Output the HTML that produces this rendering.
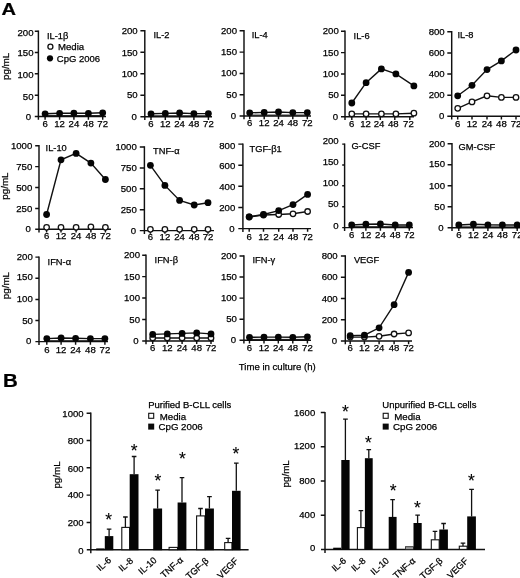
<!DOCTYPE html>
<html><head><meta charset="utf-8"><title>Figure</title>
<style>
html,body{margin:0;padding:0;background:#fff;}
body{width:520px;height:578px;overflow:hidden;font-family:"Liberation Sans", sans-serif;}
svg{display:block;filter:grayscale(1);}
text{font-family:"Liberation Sans", sans-serif;fill:#000;stroke:#000;stroke-width:0.25;}
.t{font-size:9.6px;}
.ax{stroke:#111;stroke-width:1.45;fill:none;}
.ln{stroke:#111;stroke-width:1.4;fill:none;}
.fm{fill:#050505;stroke:none;}
.om{fill:#fff;stroke:#111;stroke-width:1.3;}
.bk{fill:#050505;stroke:none;}
.bw{fill:#fff;stroke:#111;stroke-width:1.1;}
.eb{stroke:#111;stroke-width:1.3;fill:none;}
.star{font-size:17.5px;stroke-width:0.1;}
</style></head><body>
<svg width="520" height="578" viewBox="0 0 520 578">
<rect x="0" y="0" width="520" height="578" fill="#fff"/>
<text transform="translate(1.5,15) scale(1.18,1)" font-size="17" font-weight="bold">A</text>
<text transform="translate(2.9,387.3) scale(1.1,1)" font-size="18.6" font-weight="bold">B</text>
<g>
<path class="ax" d="M38.4,30.5 V119.8 M34.8,116.5 H106.0"/>
<text class="t" x="33.5" y="36.4" text-anchor="end">200</text>
<text class="t" x="33.5" y="56.0" text-anchor="end">150</text>
<text class="t" x="33.5" y="78.2" text-anchor="end">100</text>
<text class="t" x="33.5" y="99.6" text-anchor="end">50</text>
<text class="t" x="31.2" y="120.1" text-anchor="end">0</text>
<path class="ax" d="M34.8,31.2 H38.4 M34.8,52.5 H38.4 M34.8,73.8 H38.4 M34.8,95.2 H38.4 M45.1,116.5 V119.7 M59.6,116.5 V119.7 M73.9,116.5 V119.7 M88.4,116.5 V119.7 M102.7,116.5 V119.7 "/>
<text class="t" x="45.1" y="127.1" text-anchor="middle">6</text>
<text class="t" x="59.6" y="127.1" text-anchor="middle">12</text>
<text class="t" x="73.9" y="127.1" text-anchor="middle">24</text>
<text class="t" x="88.4" y="127.1" text-anchor="middle">48</text>
<text class="t" x="102.7" y="127.1" text-anchor="middle">72</text>
<text class="t" x="47.0" y="38.7" style="font-size:9.3px">IL-1β</text>
<path class="ln" d="M45.1,115.6 H102.7" style="stroke-width:1.0"/>
<polyline class="ln" points="45.1,113.8 59.6,113.3 73.9,113.1 88.4,113.3 102.7,112.8"/>
<circle class="fm" cx="45.1" cy="113.8" r="3.4"/>
<circle class="fm" cx="59.6" cy="113.3" r="3.4"/>
<circle class="fm" cx="73.9" cy="113.1" r="3.4"/>
<circle class="fm" cx="88.4" cy="113.3" r="3.4"/>
<circle class="fm" cx="102.7" cy="112.8" r="3.4"/>
</g>
<g>
<path class="ax" d="M144.8,30.0 V120.0 M140.4,116.7 H212.0"/>
<text class="t" x="137.7" y="34.3" text-anchor="end">200</text>
<text class="t" x="137.7" y="55.6" text-anchor="end">150</text>
<text class="t" x="137.7" y="77.0" text-anchor="end">100</text>
<text class="t" x="137.7" y="98.3" text-anchor="end">50</text>
<text class="t" x="136.8" y="119.6" text-anchor="end">0</text>
<path class="ax" d="M140.4,30.7 H144.8 M140.4,52.2 H144.8 M140.4,73.7 H144.8 M140.4,95.2 H144.8 M151.0,116.7 V119.9 M165.3,116.7 V119.9 M179.6,116.7 V119.9 M193.9,116.7 V119.9 M208.4,116.7 V119.9 "/>
<text class="t" x="151.0" y="126.7" text-anchor="middle">6</text>
<text class="t" x="165.3" y="126.7" text-anchor="middle">12</text>
<text class="t" x="179.6" y="126.7" text-anchor="middle">24</text>
<text class="t" x="193.9" y="126.7" text-anchor="middle">48</text>
<text class="t" x="208.4" y="126.7" text-anchor="middle">72</text>
<text class="t" x="153.4" y="38.2" style="font-size:9.3px">IL-2</text>
<path class="ln" d="M151.0,115.8 H208.4" style="stroke-width:1.0"/>
<polyline class="ln" points="151.0,113.8 165.3,113.4 179.6,113.0 193.9,113.6 208.4,113.6"/>
<circle class="fm" cx="151.0" cy="113.8" r="3.4"/>
<circle class="fm" cx="165.3" cy="113.4" r="3.4"/>
<circle class="fm" cx="179.6" cy="113.0" r="3.4"/>
<circle class="fm" cx="193.9" cy="113.6" r="3.4"/>
<circle class="fm" cx="208.4" cy="113.6" r="3.4"/>
</g>
<g>
<path class="ax" d="M244.0,30.1 V119.3 M239.6,116.0 H311.0"/>
<text class="t" x="237.0" y="33.7" text-anchor="end">200</text>
<text class="t" x="237.0" y="55.0" text-anchor="end">150</text>
<text class="t" x="237.0" y="76.3" text-anchor="end">100</text>
<text class="t" x="237.0" y="97.6" text-anchor="end">50</text>
<text class="t" x="236.2" y="118.9" text-anchor="end">0</text>
<path class="ax" d="M239.6,30.8 H244.0 M239.6,52.1 H244.0 M239.6,73.4 H244.0 M239.6,94.7 H244.0 M249.7,116.0 V119.2 M264.2,116.0 V119.2 M278.5,116.0 V119.2 M292.8,116.0 V119.2 M307.3,116.0 V119.2 "/>
<text class="t" x="249.7" y="126.3" text-anchor="middle">6</text>
<text class="t" x="264.2" y="126.3" text-anchor="middle">12</text>
<text class="t" x="278.5" y="126.3" text-anchor="middle">24</text>
<text class="t" x="292.8" y="126.3" text-anchor="middle">48</text>
<text class="t" x="307.3" y="126.3" text-anchor="middle">72</text>
<text class="t" x="251.7" y="38.3" style="font-size:9.3px">IL-4</text>
<path class="ln" d="M249.7,115.1 H307.3" style="stroke-width:1.0"/>
<polyline class="ln" points="249.7,112.8 264.2,112.4 278.5,112.0 292.8,112.6 307.3,112.6"/>
<circle class="fm" cx="249.7" cy="112.8" r="3.4"/>
<circle class="fm" cx="264.2" cy="112.4" r="3.4"/>
<circle class="fm" cx="278.5" cy="112.0" r="3.4"/>
<circle class="fm" cx="292.8" cy="112.6" r="3.4"/>
<circle class="fm" cx="307.3" cy="112.6" r="3.4"/>
</g>
<g>
<path class="ax" d="M345.0,30.5 V120.0 M341.0,116.7 H414.0"/>
<text class="t" x="338.8" y="34.3" text-anchor="end">200</text>
<text class="t" x="338.8" y="55.7" text-anchor="end">150</text>
<text class="t" x="338.8" y="77.1" text-anchor="end">100</text>
<text class="t" x="338.8" y="98.4" text-anchor="end">50</text>
<text class="t" x="338.0" y="119.8" text-anchor="end">0</text>
<path class="ax" d="M341.0,31.2 H345.0 M341.0,52.6 H345.0 M341.0,74.0 H345.0 M341.0,95.3 H345.0 M351.8,116.7 V119.9 M366.1,116.7 V119.9 M380.3,116.7 V119.9 M394.8,116.7 V119.9 M409.8,116.7 V119.9 "/>
<text class="t" x="351.6" y="126.7" text-anchor="middle">6</text>
<text class="t" x="365.5" y="126.7" text-anchor="middle">12</text>
<text class="t" x="379.0" y="126.7" text-anchor="middle">24</text>
<text class="t" x="393.3" y="126.7" text-anchor="middle">48</text>
<text class="t" x="408.4" y="126.7" text-anchor="middle">72</text>
<text class="t" x="353.6" y="38.7" style="font-size:9.3px">IL-6</text>
<polyline class="ln" points="351.8,103.0 366.1,82.7 381.4,68.9 395.9,73.9 413.9,85.9"/>
<circle class="fm" cx="351.8" cy="103.0" r="3.4"/>
<circle class="fm" cx="366.1" cy="82.7" r="3.4"/>
<circle class="fm" cx="381.4" cy="68.9" r="3.4"/>
<circle class="fm" cx="395.9" cy="73.9" r="3.4"/>
<circle class="fm" cx="413.9" cy="85.9" r="3.4"/>
<polyline class="ln" points="351.8,113.9 366.1,113.9 381.4,113.9 395.9,113.9 413.9,113.2"/>
<circle class="om" cx="351.8" cy="113.9" r="2.75"/>
<circle class="om" cx="366.1" cy="113.9" r="2.75"/>
<circle class="om" cx="381.4" cy="113.9" r="2.75"/>
<circle class="om" cx="395.9" cy="113.9" r="2.75"/>
<circle class="om" cx="413.9" cy="113.2" r="2.75"/>
</g>
<g>
<path class="ax" d="M451.7,31.1 V119.6 M447.3,116.3 H520.0"/>
<text class="t" x="444.7" y="35.2" text-anchor="end">800</text>
<text class="t" x="444.7" y="56.2" text-anchor="end">600</text>
<text class="t" x="444.7" y="77.3" text-anchor="end">400</text>
<text class="t" x="444.7" y="98.4" text-anchor="end">200</text>
<text class="t" x="444.4" y="119.4" text-anchor="end">0</text>
<path class="ax" d="M447.3,31.8 H451.7 M447.3,52.9 H451.7 M447.3,74.0 H451.7 M447.3,95.2 H451.7 M457.7,116.3 V119.5 M472.0,116.3 V119.5 M487.0,116.3 V119.5 M501.4,116.3 V119.5 M516.0,116.3 V119.5 "/>
<text class="t" x="457.7" y="127.2" text-anchor="middle">6</text>
<text class="t" x="472.0" y="127.2" text-anchor="middle">12</text>
<text class="t" x="487.0" y="127.2" text-anchor="middle">24</text>
<text class="t" x="501.4" y="127.2" text-anchor="middle">48</text>
<text class="t" x="516.0" y="127.2" text-anchor="middle">72</text>
<text class="t" x="457.5" y="38.1" style="font-size:9.3px">IL-8</text>
<polyline class="ln" points="457.7,95.8 472.0,85.3 487.0,69.6 501.4,60.9 516.0,50.0"/>
<circle class="fm" cx="457.7" cy="95.8" r="3.4"/>
<circle class="fm" cx="472.0" cy="85.3" r="3.4"/>
<circle class="fm" cx="487.0" cy="69.6" r="3.4"/>
<circle class="fm" cx="501.4" cy="60.9" r="3.4"/>
<circle class="fm" cx="516.0" cy="50.0" r="3.4"/>
<polyline class="ln" points="457.7,108.3 472.0,101.9 487.0,95.8 501.4,97.4 516.0,97.4"/>
<circle class="om" cx="457.7" cy="108.3" r="2.75"/>
<circle class="om" cx="472.0" cy="101.9" r="2.75"/>
<circle class="om" cx="487.0" cy="95.8" r="2.75"/>
<circle class="om" cx="501.4" cy="97.4" r="2.75"/>
<circle class="om" cx="516.0" cy="97.4" r="2.75"/>
</g>
<g>
<path class="ax" d="M39.0,145.0 V232.6 M35.2,229.3 H111.0"/>
<text class="t" x="32.3" y="149.0" text-anchor="end">1000</text>
<text class="t" x="32.3" y="169.5" text-anchor="end">750</text>
<text class="t" x="32.3" y="190.6" text-anchor="end">500</text>
<text class="t" x="32.3" y="211.5" text-anchor="end">250</text>
<text class="t" x="30.8" y="232.4" text-anchor="end">0</text>
<path class="ax" d="M35.2,145.7 H39.0 M35.2,166.6 H39.0 M35.2,187.5 H39.0 M35.2,208.4 H39.0 M46.6,229.3 V232.5 M61.0,229.3 V232.5 M76.1,229.3 V232.5 M90.9,229.3 V232.5 M105.4,229.3 V232.5 "/>
<text class="t" x="46.6" y="239.3" text-anchor="middle">6</text>
<text class="t" x="61.0" y="239.3" text-anchor="middle">12</text>
<text class="t" x="76.1" y="239.3" text-anchor="middle">24</text>
<text class="t" x="90.9" y="239.3" text-anchor="middle">48</text>
<text class="t" x="105.4" y="239.3" text-anchor="middle">72</text>
<text class="t" x="45.6" y="150.6" style="font-size:9.3px">IL-10</text>
<polyline class="ln" points="46.6,214.5 61.0,159.8 76.1,153.4 90.9,163.1 105.4,179.5"/>
<circle class="fm" cx="46.6" cy="214.5" r="3.4"/>
<circle class="fm" cx="61.0" cy="159.8" r="3.4"/>
<circle class="fm" cx="76.1" cy="153.4" r="3.4"/>
<circle class="fm" cx="90.9" cy="163.1" r="3.4"/>
<circle class="fm" cx="105.4" cy="179.5" r="3.4"/>
<circle class="om" cx="46.6" cy="227.3" r="2.75"/>
<circle class="om" cx="61.0" cy="227.3" r="2.75"/>
<circle class="om" cx="76.1" cy="227.3" r="2.75"/>
<circle class="om" cx="90.9" cy="226.8" r="2.75"/>
<circle class="om" cx="105.4" cy="227.3" r="2.75"/>
</g>
<g>
<path class="ax" d="M144.4,146.3 V233.9 M139.8,230.6 H214.0"/>
<text class="t" x="136.8" y="150.1" text-anchor="end">1000</text>
<text class="t" x="136.8" y="171.0" text-anchor="end">750</text>
<text class="t" x="136.8" y="191.9" text-anchor="end">500</text>
<text class="t" x="136.8" y="212.8" text-anchor="end">250</text>
<text class="t" x="136.0" y="233.7" text-anchor="end">0</text>
<path class="ax" d="M139.8,147.0 H144.4 M139.8,167.9 H144.4 M139.8,188.8 H144.4 M139.8,209.7 H144.4 M150.4,230.6 V233.8 M164.9,230.6 V233.8 M179.6,230.6 V233.8 M194.2,230.6 V233.8 M208.0,230.6 V233.8 "/>
<text class="t" x="150.4" y="240.1" text-anchor="middle">6</text>
<text class="t" x="164.9" y="240.1" text-anchor="middle">12</text>
<text class="t" x="179.6" y="240.1" text-anchor="middle">24</text>
<text class="t" x="194.2" y="240.1" text-anchor="middle">48</text>
<text class="t" x="208.0" y="240.1" text-anchor="middle">72</text>
<text class="t" x="153.0" y="153.8" style="font-size:9.3px">TNF-α</text>
<polyline class="ln" points="150.4,165.3 164.9,185.4 179.6,200.4 194.2,205.0 208.0,202.7"/>
<circle class="fm" cx="150.4" cy="165.3" r="3.4"/>
<circle class="fm" cx="164.9" cy="185.4" r="3.4"/>
<circle class="fm" cx="179.6" cy="200.4" r="3.4"/>
<circle class="fm" cx="194.2" cy="205.0" r="3.4"/>
<circle class="fm" cx="208.0" cy="202.7" r="3.4"/>
<circle class="om" cx="150.4" cy="229.3" r="2.75"/>
<circle class="om" cx="164.9" cy="229.3" r="2.75"/>
<circle class="om" cx="179.6" cy="229.3" r="2.75"/>
<circle class="om" cx="194.2" cy="229.3" r="2.75"/>
<circle class="om" cx="208.0" cy="229.3" r="2.75"/>
</g>
<g>
<path class="ax" d="M242.9,143.4 V231.9 M238.3,228.6 H311.0"/>
<text class="t" x="235.3" y="148.5" text-anchor="end">800</text>
<text class="t" x="235.3" y="169.0" text-anchor="end">600</text>
<text class="t" x="235.3" y="189.9" text-anchor="end">400</text>
<text class="t" x="235.3" y="210.9" text-anchor="end">200</text>
<text class="t" x="234.5" y="231.7" text-anchor="end">0</text>
<path class="ax" d="M238.3,144.1 H242.9 M238.3,165.2 H242.9 M238.3,186.3 H242.9 M238.3,207.5 H242.9 M249.2,228.6 V231.8 M263.5,228.6 V231.8 M278.7,228.6 V231.8 M293.0,228.6 V231.8 M307.6,228.6 V231.8 "/>
<text class="t" x="249.2" y="239.7" text-anchor="middle">6</text>
<text class="t" x="263.5" y="239.7" text-anchor="middle">12</text>
<text class="t" x="278.7" y="239.7" text-anchor="middle">24</text>
<text class="t" x="293.0" y="239.7" text-anchor="middle">48</text>
<text class="t" x="307.6" y="239.7" text-anchor="middle">72</text>
<text class="t" x="249.5" y="151.6" style="font-size:9.3px">TGF-β1</text>
<polyline class="ln" points="249.2,217.0 263.5,215.0 278.7,214.5 293.0,213.8 307.6,211.5"/>
<circle class="om" cx="249.2" cy="217.0" r="2.75"/>
<circle class="om" cx="263.5" cy="215.0" r="2.75"/>
<circle class="om" cx="278.7" cy="214.5" r="2.75"/>
<circle class="om" cx="293.0" cy="213.8" r="2.75"/>
<circle class="om" cx="307.6" cy="211.5" r="2.75"/>
<polyline class="ln" points="249.2,216.8 263.5,214.5 278.7,210.6 293.0,204.6 307.6,194.4"/>
<circle class="fm" cx="249.2" cy="216.8" r="3.4"/>
<circle class="fm" cx="263.5" cy="214.5" r="3.4"/>
<circle class="fm" cx="278.7" cy="210.6" r="3.4"/>
<circle class="fm" cx="293.0" cy="204.6" r="3.4"/>
<circle class="fm" cx="307.6" cy="194.4" r="3.4"/>
</g>
<g>
<path class="ax" d="M344.6,143.4 V230.9 M342.2,227.6 H413.0"/>
<text class="t" x="338.7" y="143.8" text-anchor="end">200</text>
<text class="t" x="338.7" y="164.6" text-anchor="end">150</text>
<text class="t" x="338.7" y="186.3" text-anchor="end">100</text>
<text class="t" x="338.7" y="207.3" text-anchor="end">50</text>
<text class="t" x="338.7" y="229.2" text-anchor="end">0</text>
<path class="ax" d="M342.2,144.1 H344.6 M342.2,165.0 H344.6 M342.2,185.8 H344.6 M342.2,206.7 H344.6 M351.7,227.6 V230.8 M365.9,227.6 V230.8 M380.4,227.6 V230.8 M395.2,227.6 V230.8 M409.3,227.6 V230.8 "/>
<text class="t" x="351.7" y="238.4" text-anchor="middle">6</text>
<text class="t" x="365.9" y="238.4" text-anchor="middle">12</text>
<text class="t" x="380.4" y="238.4" text-anchor="middle">24</text>
<text class="t" x="395.2" y="238.4" text-anchor="middle">48</text>
<text class="t" x="409.3" y="238.4" text-anchor="middle">72</text>
<text class="t" x="351.4" y="149.1" style="font-size:9.3px">G-CSF</text>
<path class="ln" d="M351.7,226.7 H409.3" style="stroke-width:1.0"/>
<polyline class="ln" points="351.7,225.0 365.9,224.2 380.4,224.0 395.2,225.0 409.3,225.0"/>
<circle class="fm" cx="351.7" cy="225.0" r="3.4"/>
<circle class="fm" cx="365.9" cy="224.2" r="3.4"/>
<circle class="fm" cx="380.4" cy="224.0" r="3.4"/>
<circle class="fm" cx="395.2" cy="225.0" r="3.4"/>
<circle class="fm" cx="409.3" cy="225.0" r="3.4"/>
</g>
<g>
<path class="ax" d="M452.0,143.0 V231.1 M447.6,227.8 H520.0"/>
<text class="t" x="445.0" y="146.8" text-anchor="end">200</text>
<text class="t" x="445.0" y="166.6" text-anchor="end">150</text>
<text class="t" x="445.0" y="188.6" text-anchor="end">100</text>
<text class="t" x="445.0" y="209.9" text-anchor="end">50</text>
<text class="t" x="443.5" y="230.9" text-anchor="end">0</text>
<path class="ax" d="M447.6,143.7 H452.0 M447.6,164.7 H452.0 M447.6,185.8 H452.0 M447.6,206.8 H452.0 M458.8,227.8 V231.0 M473.4,227.8 V231.0 M487.9,227.8 V231.0 M502.4,227.8 V231.0 M517.2,227.8 V231.0 "/>
<text class="t" x="458.8" y="238.3" text-anchor="middle">6</text>
<text class="t" x="473.4" y="238.3" text-anchor="middle">12</text>
<text class="t" x="487.9" y="238.3" text-anchor="middle">24</text>
<text class="t" x="502.4" y="238.3" text-anchor="middle">48</text>
<text class="t" x="517.2" y="238.3" text-anchor="middle">72</text>
<text class="t" x="458.6" y="150.2" style="font-size:9.3px">GM-CSF</text>
<path class="ln" d="M458.8,226.9 H517.2" style="stroke-width:1.0"/>
<polyline class="ln" points="458.8,225.0 473.4,224.2 487.9,224.8 502.4,225.0 517.2,225.0"/>
<circle class="fm" cx="458.8" cy="225.0" r="3.4"/>
<circle class="fm" cx="473.4" cy="224.2" r="3.4"/>
<circle class="fm" cx="487.9" cy="224.8" r="3.4"/>
<circle class="fm" cx="502.4" cy="225.0" r="3.4"/>
<circle class="fm" cx="517.2" cy="225.0" r="3.4"/>
</g>
<g>
<path class="ax" d="M39.0,256.4 V344.9 M35.4,341.6 H108.0"/>
<text class="t" x="32.8" y="259.6" text-anchor="end">200</text>
<text class="t" x="32.8" y="280.0" text-anchor="end">150</text>
<text class="t" x="32.8" y="302.1" text-anchor="end">100</text>
<text class="t" x="32.8" y="323.9" text-anchor="end">50</text>
<text class="t" x="31.3" y="344.2" text-anchor="end">0</text>
<path class="ax" d="M35.4,257.1 H39.0 M35.4,278.2 H39.0 M35.4,299.4 H39.0 M35.4,320.5 H39.0 M46.8,341.6 V344.8 M61.1,341.6 V344.8 M75.6,341.6 V344.8 M90.4,341.6 V344.8 M104.9,341.6 V344.8 "/>
<text class="t" x="46.8" y="353.0" text-anchor="middle">6</text>
<text class="t" x="61.1" y="353.0" text-anchor="middle">12</text>
<text class="t" x="75.6" y="353.0" text-anchor="middle">24</text>
<text class="t" x="90.4" y="353.0" text-anchor="middle">48</text>
<text class="t" x="104.9" y="353.0" text-anchor="middle">72</text>
<text class="t" x="47.6" y="264.6" style="font-size:9.3px">IFN-α</text>
<path class="ln" d="M46.8,340.7 H104.9" style="stroke-width:1.0"/>
<polyline class="ln" points="46.8,338.6 61.1,338.0 75.6,338.3 90.4,338.6 104.9,338.6"/>
<circle class="fm" cx="46.8" cy="338.6" r="3.4"/>
<circle class="fm" cx="61.1" cy="338.0" r="3.4"/>
<circle class="fm" cx="75.6" cy="338.3" r="3.4"/>
<circle class="fm" cx="90.4" cy="338.6" r="3.4"/>
<circle class="fm" cx="104.9" cy="338.6" r="3.4"/>
</g>
<g>
<path class="ax" d="M146.0,254.5 V344.2 M142.2,340.9 H214.0"/>
<text class="t" x="140.0" y="258.3" text-anchor="end">200</text>
<text class="t" x="140.0" y="279.7" text-anchor="end">150</text>
<text class="t" x="140.0" y="301.1" text-anchor="end">100</text>
<text class="t" x="140.0" y="322.6" text-anchor="end">50</text>
<text class="t" x="138.5" y="344.0" text-anchor="end">0</text>
<path class="ax" d="M142.2,255.2 H146.0 M142.2,276.6 H146.0 M142.2,298.0 H146.0 M142.2,319.5 H146.0 M152.7,340.9 V344.1 M167.3,340.9 V344.1 M182.1,340.9 V344.1 M196.7,340.9 V344.1 M211.0,340.9 V344.1 "/>
<text class="t" x="152.7" y="351.3" text-anchor="middle">6</text>
<text class="t" x="167.3" y="351.3" text-anchor="middle">12</text>
<text class="t" x="182.1" y="351.3" text-anchor="middle">24</text>
<text class="t" x="196.7" y="351.3" text-anchor="middle">48</text>
<text class="t" x="211.0" y="351.3" text-anchor="middle">72</text>
<text class="t" x="154.6" y="262.7" style="font-size:9.3px">IFN-β</text>
<polyline class="ln" points="152.7,338.0 167.3,338.0 182.1,338.0 196.7,338.0 211.0,338.0"/>
<circle class="om" cx="152.7" cy="338.0" r="2.75"/>
<circle class="om" cx="167.3" cy="338.0" r="2.75"/>
<circle class="om" cx="182.1" cy="338.0" r="2.75"/>
<circle class="om" cx="196.7" cy="338.0" r="2.75"/>
<circle class="om" cx="211.0" cy="338.0" r="2.75"/>
<polyline class="ln" points="152.7,334.4 167.3,333.9 182.1,333.4 196.7,332.9 211.0,333.9"/>
<circle class="fm" cx="152.7" cy="334.4" r="3.4"/>
<circle class="fm" cx="167.3" cy="333.9" r="3.4"/>
<circle class="fm" cx="182.1" cy="333.4" r="3.4"/>
<circle class="fm" cx="196.7" cy="332.9" r="3.4"/>
<circle class="fm" cx="211.0" cy="333.9" r="3.4"/>
</g>
<g>
<path class="ax" d="M243.9,255.2 V343.6 M239.5,340.3 H311.0"/>
<text class="t" x="236.9" y="259.0" text-anchor="end">200</text>
<text class="t" x="236.9" y="280.0" text-anchor="end">150</text>
<text class="t" x="236.9" y="301.1" text-anchor="end">100</text>
<text class="t" x="236.9" y="322.1" text-anchor="end">50</text>
<text class="t" x="236.1" y="343.1" text-anchor="end">0</text>
<path class="ax" d="M239.5,255.9 H243.9 M239.5,277.0 H243.9 M239.5,298.1 H243.9 M239.5,319.2 H243.9 M249.5,340.3 V343.5 M264.0,340.3 V343.5 M278.3,340.3 V343.5 M292.8,340.3 V343.5 M307.4,340.3 V343.5 "/>
<text class="t" x="249.5" y="350.8" text-anchor="middle">6</text>
<text class="t" x="264.0" y="350.8" text-anchor="middle">12</text>
<text class="t" x="278.3" y="350.8" text-anchor="middle">24</text>
<text class="t" x="292.8" y="350.8" text-anchor="middle">48</text>
<text class="t" x="307.4" y="350.8" text-anchor="middle">72</text>
<text class="t" x="252.5" y="263.4" style="font-size:9.3px">IFN-γ</text>
<path class="ln" d="M249.5,339.4 H307.4" style="stroke-width:1.0"/>
<polyline class="ln" points="249.5,337.3 264.0,337.1 278.3,337.1 292.8,337.3 307.4,336.8"/>
<circle class="fm" cx="249.5" cy="337.3" r="3.4"/>
<circle class="fm" cx="264.0" cy="337.1" r="3.4"/>
<circle class="fm" cx="278.3" cy="337.1" r="3.4"/>
<circle class="fm" cx="292.8" cy="337.3" r="3.4"/>
<circle class="fm" cx="307.4" cy="336.8" r="3.4"/>
</g>
<g>
<path class="ax" d="M345.3,255.2 V344.3 M340.9,341.0 H412.0"/>
<text class="t" x="337.7" y="259.0" text-anchor="end">800</text>
<text class="t" x="337.7" y="280.3" text-anchor="end">600</text>
<text class="t" x="337.7" y="301.5" text-anchor="end">400</text>
<text class="t" x="337.7" y="322.8" text-anchor="end">200</text>
<text class="t" x="337.2" y="344.1" text-anchor="end">0</text>
<path class="ax" d="M340.9,255.9 H345.3 M340.9,277.2 H345.3 M340.9,298.4 H345.3 M340.9,319.7 H345.3 M350.2,341.0 V344.2 M364.4,341.0 V344.2 M379.1,341.0 V344.2 M394.1,341.0 V344.2 M408.6,341.0 V344.2 "/>
<text class="t" x="350.2" y="351.3" text-anchor="middle">6</text>
<text class="t" x="364.4" y="351.3" text-anchor="middle">12</text>
<text class="t" x="379.1" y="351.3" text-anchor="middle">24</text>
<text class="t" x="394.1" y="351.3" text-anchor="middle">48</text>
<text class="t" x="408.6" y="351.3" text-anchor="middle">72</text>
<text class="t" x="353.9" y="263.4" style="font-size:9.3px">VEGF</text>
<polyline class="ln" points="350.2,337.1 364.4,337.1 379.1,336.3 394.1,334.0 408.6,332.9"/>
<circle class="om" cx="350.2" cy="337.1" r="2.75"/>
<circle class="om" cx="364.4" cy="337.1" r="2.75"/>
<circle class="om" cx="379.1" cy="336.3" r="2.75"/>
<circle class="om" cx="394.1" cy="334.0" r="2.75"/>
<circle class="om" cx="408.6" cy="332.9" r="2.75"/>
<polyline class="ln" points="350.2,335.6 364.4,335.2 379.1,327.8 394.1,304.7 408.6,272.4"/>
<circle class="fm" cx="350.2" cy="335.6" r="3.4"/>
<circle class="fm" cx="364.4" cy="335.2" r="3.4"/>
<circle class="fm" cx="379.1" cy="327.8" r="3.4"/>
<circle class="fm" cx="394.1" cy="304.7" r="3.4"/>
<circle class="fm" cx="408.6" cy="272.4" r="3.4"/>
</g>
<text transform="translate(8.8,66.4) rotate(-90)" text-anchor="middle" font-size="9.8">pg/mL</text>
<text transform="translate(7.7,186.1) rotate(-90)" text-anchor="middle" font-size="9.8">pg/mL</text>
<text transform="translate(8.8,285.6) rotate(-90)" text-anchor="middle" font-size="9.8">pg/mL</text>
<circle class="om" cx="50.4" cy="46.7" r="2.5"/>
<circle class="fm" cx="50.0" cy="58.3" r="3.1"/>
<text x="58" y="50" font-size="9.6">Media</text>
<text x="56.8" y="61.8" font-size="9.5">CpG 2006</text>
<text x="277.3" y="369.6" text-anchor="middle" font-size="9.6">Time in culture (h)</text>
<g>
<path class="ax" d="M90.8,412.6 V553.2 M86.8,549.7 H248.6"/>
<text class="t" x="83.5" y="416.6" text-anchor="end" style="font-size:9.5px">1000</text>
<text class="t" x="83.5" y="443.9" text-anchor="end" style="font-size:9.5px">800</text>
<text class="t" x="83.5" y="471.8" text-anchor="end" style="font-size:9.5px">600</text>
<text class="t" x="83.5" y="498.2" text-anchor="end" style="font-size:9.5px">400</text>
<text class="t" x="83.5" y="525.8" text-anchor="end" style="font-size:9.5px">200</text>
<text class="t" x="83.5" y="553.6" text-anchor="end" style="font-size:9.5px">0</text>
<path class="ax" d="M86.6,413.2 H90.8 M86.6,440.5 H90.8 M86.6,467.8 H90.8 M86.6,495.1 H90.8 M86.6,522.4 H90.8 "/>
<rect class="bk" x="96.2" y="548.4" width="8.4" height="1.8"/>
<path class="eb" d="M109.1,536.1 V529.2 M106.8,529.2 H111.4" />
<rect class="bk" x="104.8" y="536.1" width="8.5" height="14.1"/>
<path class="eb" d="M125.4,527.4 V517.0 M123.1,517.0 H127.7" />
<rect class="bw" x="121.8" y="527.4" width="7.8" height="22.3"/>
<path class="eb" d="M134.1,474.2 V456.5 M131.8,456.5 H136.4" />
<rect class="bk" x="129.7" y="474.2" width="8.8" height="76.0"/>
<path class="eb" d="M157.6,508.5 V490.1 M155.3,490.1 H159.9" />
<rect class="bk" x="153.2" y="508.5" width="8.9" height="41.7"/>
<rect class="bw" x="169.1" y="547.4" width="8.4" height="2.3"/>
<path class="eb" d="M182.0,502.5 V477.7 M179.7,477.7 H184.3" />
<rect class="bk" x="177.6" y="502.5" width="8.8" height="47.7"/>
<path class="eb" d="M200.5,515.9 V508.5 M198.2,508.5 H202.8" />
<rect class="bw" x="196.6" y="515.9" width="8.3" height="33.8"/>
<path class="eb" d="M209.4,508.5 V496.6 M207.1,496.6 H211.8" />
<rect class="bk" x="205.0" y="508.5" width="8.9" height="41.7"/>
<path class="eb" d="M228.1,542.6 V538.3 M225.8,538.3 H230.4" />
<rect class="bw" x="224.7" y="542.6" width="7.2" height="7.1"/>
<path class="eb" d="M236.3,490.8 V463.2 M234.0,463.2 H238.6" />
<rect class="bk" x="232.0" y="490.8" width="8.6" height="59.4"/>
<text class="star" x="108.6" y="526.4" text-anchor="middle">*</text>
<text class="star" x="134.1" y="457.4" text-anchor="middle">*</text>
<text class="star" x="157.9" y="487.1" text-anchor="middle">*</text>
<text class="star" x="182.5" y="464.9" text-anchor="middle">*</text>
<text class="star" x="235.9" y="460.1" text-anchor="middle">*</text>
<text class="t" transform="translate(111.8,561.0) rotate(-42)" text-anchor="end" style="font-size:9.2px">IL-6</text>
<text class="t" transform="translate(133.8,561.5) rotate(-42)" text-anchor="end" style="font-size:9.2px">IL-8</text>
<text class="t" transform="translate(157.3,561.0) rotate(-42)" text-anchor="end" style="font-size:9.2px">IL-10</text>
<text class="t" transform="translate(183.6,561.0) rotate(-42)" text-anchor="end" style="font-size:9.2px">TNF-α</text>
<text class="t" transform="translate(209.2,561.8) rotate(-42)" text-anchor="end" style="font-size:9.2px">TGF-β</text>
<text class="t" transform="translate(238.8,561.5) rotate(-45)" text-anchor="end" style="font-size:9.2px">VEGF</text>
<text x="148.2" y="407.6" font-size="9.5">Purified B-CLL cells</text>
<rect x="148.7" y="413.3" width="5" height="5" fill="#fff" stroke="#111" stroke-width="1.1"/>
<rect x="148.2" y="423.6" width="6" height="6" fill="#0a0a0a"/>
<text x="159.7" y="419.9" font-size="9.7">Media</text>
<text x="158.5" y="430.3" font-size="9.7">CpG 2006</text>
<text transform="translate(60,475.0) rotate(-90)" text-anchor="middle" font-size="9.8">pg/mL</text>
</g>
<g>
<path class="ax" d="M325.0,411.9 V552.9 M321.0,549.4 H485.0"/>
<text class="t" x="315.2" y="415.9" text-anchor="end" style="font-size:9.5px">1600</text>
<text class="t" x="315.2" y="449.0" text-anchor="end" style="font-size:9.5px">1200</text>
<text class="t" x="315.2" y="483.7" text-anchor="end" style="font-size:9.5px">800</text>
<text class="t" x="315.2" y="517.5" text-anchor="end" style="font-size:9.5px">400</text>
<text class="t" x="315.2" y="550.5" text-anchor="end" style="font-size:9.5px">0</text>
<path class="ax" d="M320.8,412.5 H325.0 M320.8,446.7 H325.0 M320.8,480.9 H325.0 M320.8,515.2 H325.0 "/>
<rect class="bk" x="333.2" y="547.7" width="7.9" height="2.2"/>
<path class="eb" d="M345.4,460.0 V419.2 M343.1,419.2 H347.8" />
<rect class="bk" x="341.3" y="460.0" width="8.3" height="89.9"/>
<path class="eb" d="M360.9,527.6 V510.7 M358.6,510.7 H363.2" />
<rect class="bw" x="357.4" y="527.6" width="7.4" height="21.8"/>
<path class="eb" d="M368.8,458.2 V449.7 M366.5,449.7 H371.1" />
<rect class="bk" x="364.9" y="458.2" width="7.8" height="91.7"/>
<path class="eb" d="M392.6,516.9 V499.6 M390.3,499.6 H394.9" />
<rect class="bk" x="388.7" y="516.9" width="7.9" height="33.0"/>
<rect x="405.5" y="546.7" width="7.9" height="2.7" fill="#999" stroke="#222" stroke-width="0.8"/>
<path class="eb" d="M417.6,523.0 V515.2 M415.3,515.2 H419.9" />
<rect class="bk" x="413.5" y="523.0" width="8.2" height="26.9"/>
<path class="eb" d="M435.0,539.8 V531.4 M432.7,531.4 H437.3" />
<rect class="bw" x="431.3" y="539.8" width="7.9" height="9.6"/>
<path class="eb" d="M443.6,529.5 V523.5 M441.3,523.5 H445.9" />
<rect class="bk" x="439.3" y="529.5" width="8.6" height="20.4"/>
<path class="eb" d="M463.0,546.2 V543.1 M460.7,543.1 H465.3" />
<rect class="bw" x="459.3" y="546.2" width="7.8" height="3.2"/>
<path class="eb" d="M471.6,516.4 V489.4 M469.2,489.4 H473.9" />
<rect class="bk" x="467.2" y="516.4" width="8.7" height="33.5"/>
<text class="star" x="345.4" y="418.2" text-anchor="middle">*</text>
<text class="star" x="368.5" y="448.7" text-anchor="middle">*</text>
<text class="star" x="393.1" y="497.3" text-anchor="middle">*</text>
<text class="star" x="417.5" y="514.3" text-anchor="middle">*</text>
<text class="star" x="471.4" y="486.9" text-anchor="middle">*</text>
<text class="t" transform="translate(346.9,561.5) rotate(-42)" text-anchor="end" style="font-size:9.2px">IL-6</text>
<text class="t" transform="translate(366.4,561.5) rotate(-42)" text-anchor="end" style="font-size:9.2px">IL-8</text>
<text class="t" transform="translate(389.6,561.5) rotate(-42)" text-anchor="end" style="font-size:9.2px">IL-10</text>
<text class="t" transform="translate(416.0,561.8) rotate(-42)" text-anchor="end" style="font-size:9.2px">TNF-α</text>
<text class="t" transform="translate(443.2,561.8) rotate(-42)" text-anchor="end" style="font-size:9.2px">TGF-β</text>
<text class="t" transform="translate(468.6,561.5) rotate(-45)" text-anchor="end" style="font-size:9.2px">VEGF</text>
<text x="382.3" y="407.6" font-size="9.5">Unpurified B-CLL cells</text>
<rect x="383.2" y="413.3" width="5" height="5" fill="#fff" stroke="#111" stroke-width="1.1"/>
<rect x="382.7" y="423.6" width="6" height="6" fill="#0a0a0a"/>
<text x="394.2" y="419.9" font-size="9.7">Media</text>
<text x="393.0" y="430.3" font-size="9.7">CpG 2006</text>
<text transform="translate(289.4,473.8) rotate(-90)" text-anchor="middle" font-size="9.8">pg/mL</text>
</g>
</svg></body></html>
